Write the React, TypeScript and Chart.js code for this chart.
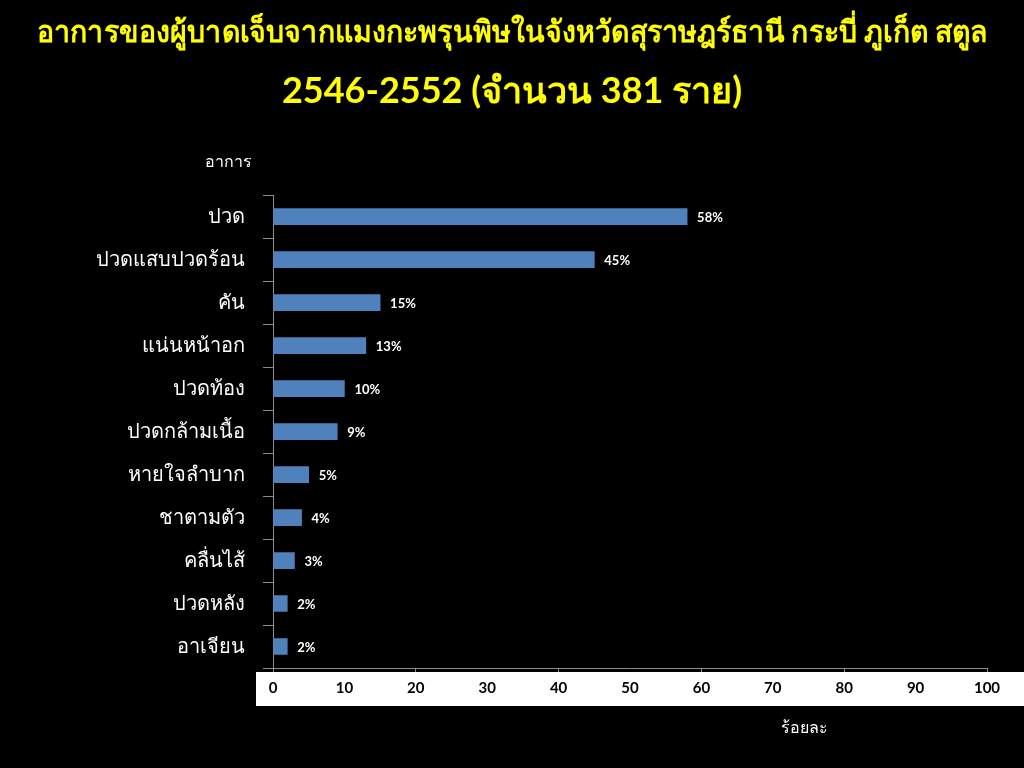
import { useEffect, useRef } from "react";
import { Chart, registerables } from "chart.js";

Chart.register(...registerables);

const categories = [
  "ปวด",
  "ปวดแสบปวดร้อน",
  "คัน",
  "แน่นหน้าอก",
  "ปวดท้อง",
  "ปวดกล้ามเนื้อ",
  "หายใจลำบาก",
  "ชาตามตัว",
  "คลื่นไส้",
  "ปวดหลัง",
  "อาเจียน",
];
const percentValues = [58, 45, 15, 13, 10, 9, 5, 4, 3, 2, 2];
const titleLine1 = "อาการของผู้บาดเจ็บจากแมงกะพรุนพิษในจังหวัดสุราษฎร์ธานี กระบี่ ภูเก็ต สตูล";
const titleLine2 = "2546-2552 (จำนวน 381 ราย)";
const yAxisTitle = "อาการ";
const xAxisTitle = "ร้อยละ";
const xMin = 0;
const xMax = 100;
const xStep = 10;

const FONT = "Lato, 'Noto Sans', 'DejaVu Sans', sans-serif";

const overlayPlugin = {
  id: "overlay",
  beforeDraw(chart: any) {
    const { ctx, chartArea, width, height } = chart;
    ctx.save();
    ctx.fillStyle = "#000";
    ctx.fillRect(0, 0, width, height);
    ctx.fillStyle = "#fff";
    const left = chartArea.left - 17;
    ctx.fillRect(left, chartArea.bottom + 4, width - left, 34);
    ctx.restore();
  },
  afterDatasetsDraw(chart: any) {
    const { ctx } = chart;
    const meta = chart.getDatasetMeta(0);
    ctx.save();
    ctx.font = `bold 13px ${FONT}`;
    ctx.fillStyle = "#fff";
    ctx.textAlign = "left";
    ctx.textBaseline = "middle";
    meta.data.forEach((el: any, i: number) => {
      ctx.fillText(`${percentValues[i]}%`, el.x + 10, el.y + 1);
    });
    ctx.restore();
  },
  afterDraw(chart: any) {
    const { ctx, chartArea } = chart;
    ctx.save();
    ctx.font = `16px ${FONT}`;
    ctx.fillStyle = "#fff";
    ctx.textAlign = "center";
    ctx.textBaseline = "middle";
    ctx.fillText(yAxisTitle, chartArea.left - 45, chartArea.top - 33);
    const w = chartArea.right - chartArea.left;
    ctx.fillText(xAxisTitle, chartArea.left + w * 0.745, chartArea.bottom + 60);
    ctx.restore();
  },
};

export default function App() {
  const ref = useRef<HTMLCanvasElement>(null);
  useEffect(() => {
    document.body.style.margin = "0";
    document.body.style.background = "#000";
    const chart = new Chart(ref.current!, {
      type: "bar",
      data: {
        labels: categories,
        datasets: [
          {
            data: percentValues,
            backgroundColor: "#4F81BD",
            borderWidth: 0,
            barThickness: 16,
          },
        ],
      },
      options: {
        indexAxis: "y",
        animation: false,
        responsive: false,
        maintainAspectRatio: false,
        layout: { padding: { left: 37, right: 37, top: 0, bottom: 0 } },
        plugins: {
          legend: { display: false },
          tooltip: { enabled: false },
          title: {
            display: true,
            text: titleLine1,
            color: "#FFFF00",
            font: { family: FONT, size: 30, weight: "bold" },
            padding: { top: 14, bottom: 14 },
          },
          subtitle: {
            display: true,
            text: titleLine2,
            color: "#FFFF00",
            font: { family: FONT, size: 36, weight: "bold" },
            padding: { top: 6, bottom: 82 },
          },
        },
        scales: {
          x: {
            type: "linear",
            min: xMin,
            max: xMax,
            afterFit(scale: any) {
              scale.height = 100;
            },
            ticks: {
              stepSize: xStep,
              color: "#000",
              font: { family: FONT, size: 15, weight: "bold" },
              padding: 7,
              maxRotation: 0,
            },
            grid: {
              drawOnChartArea: false,
              tickLength: 4,
              color: (c: any) =>
                c.tick && c.tick.value % 20 === 0 ? "#8c8c8c" : "rgba(0,0,0,0)",
            },
            border: { color: "#8c8c8c", width: 1 },
          },
          y: {
            afterFit(scale: any) {
              scale.width = 236;
            },
            ticks: {
              color: "#fff",
              font: { family: FONT, size: 20 },
              padding: 18,
            },
            grid: {
              drawOnChartArea: false,
              tickLength: 10,
              color: "#8c8c8c",
              offset: true,
            },
            border: { color: "#8c8c8c", width: 1 },
          },
        },
      },
      plugins: [overlayPlugin],
    });
    return () => chart.destroy();
  }, []);
  return (
    <div style={{ width: 1024, height: 768, background: "#000" }}>
      <canvas ref={ref} width={1024} height={768} />
    </div>
  );
}
